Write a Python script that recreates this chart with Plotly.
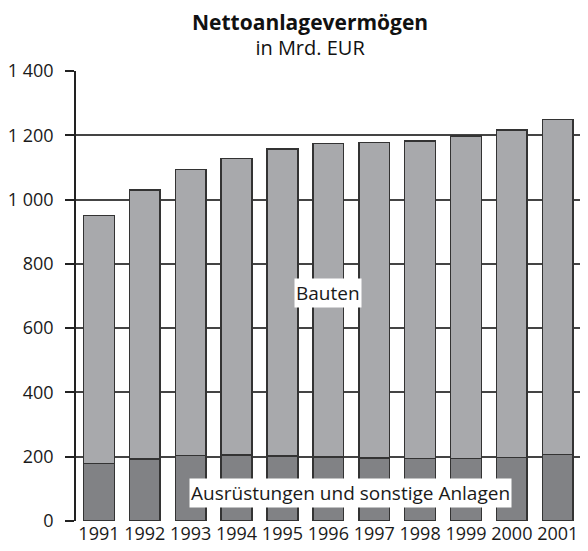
import plotly.graph_objects as go

jahre = [1991, 1992, 1993, 1994, 1995, 1996, 1997, 1998, 1999, 2000, 2001]
ausruestungen = [179, 193, 204, 206, 202, 199, 196, 195, 194, 197, 207]
bauten = [772, 837, 890, 922, 955, 976, 981, 988, 1004, 1020, 1042]

y_ticks = [0, 200, 400, 600, 800, 1000, 1200, 1400]
y_labels = ['0', '200', '400', '600', '800', '1 000', '1 200', '1 400']

FONT = 'Open Sans'

fig = go.Figure()
fig.add_trace(go.Bar(
    x=jahre,
    y=ausruestungen,
    name='Ausrüstungen und sonstige Anlagen',
    marker=dict(color='#818285', line=dict(color='#333333', width=1.5)),
    width=0.67,
))
fig.add_trace(go.Bar(
    x=jahre,
    y=bauten,
    name='Bauten',
    marker=dict(color='#a8a9ac', line=dict(color='#333333', width=1.5)),
    width=0.67,
))

# page body adds 8px margin, so figure is 8px smaller
fig.update_layout(
    barmode='stack',
    width=580,
    height=543,
    margin=dict(l=63, r=0, t=63, b=30),
    paper_bgcolor='white',
    plot_bgcolor='white',
    showlegend=False,
    font=dict(family=FONT, size=18, color='#1a1a1a'),
    xaxis=dict(
        range=[1990.5, 2001.66],
        tickvals=jahre,
        ticktext=[str(j) for j in jahre],
        showgrid=False,
        zeroline=False,
        showline=False,
        ticks='',
        tickfont=dict(size=18),
    ),
    yaxis=dict(
        range=[0, 1400],
        tickvals=y_ticks,
        ticktext=y_labels,
        showgrid=True,
        gridcolor='#444444',
        gridwidth=1.5,
        zeroline=False,
        showline=True,
        linecolor='#222222',
        linewidth=1.5,
        ticks='outside',
        ticklen=9,
        tickwidth=1.5,
        tickcolor='#222222',
        ticklabelstandoff=8,
        tickfont=dict(size=18),
    ),
    annotations=[
        dict(text='<span style="font-size:21px"><b>Nettoanlagevermögen</b></span>'
                  '<br><span style="font-size:20px">in Mrd. EUR</span>',
             xref='paper', yref='paper',
             x=0.458, y=1.082, showarrow=False, xanchor='center', yanchor='middle',
             font=dict(size=19, family=FONT, color='#111111')),
        dict(text='Bauten', x=1996, y=709, xref='x', yref='y',
             showarrow=False, bgcolor='white', borderpad=1,
             font=dict(size=19, family=FONT, color='#1a1a1a')),
        dict(text='Ausrüstungen und sonstige Anlagen', x=1996.49, y=86, xref='x', yref='y',
             showarrow=False, bgcolor='white', borderpad=1,
             font=dict(size=19, family=FONT, color='#1a1a1a')),
    ],
)

fig.write_html("out.html")
